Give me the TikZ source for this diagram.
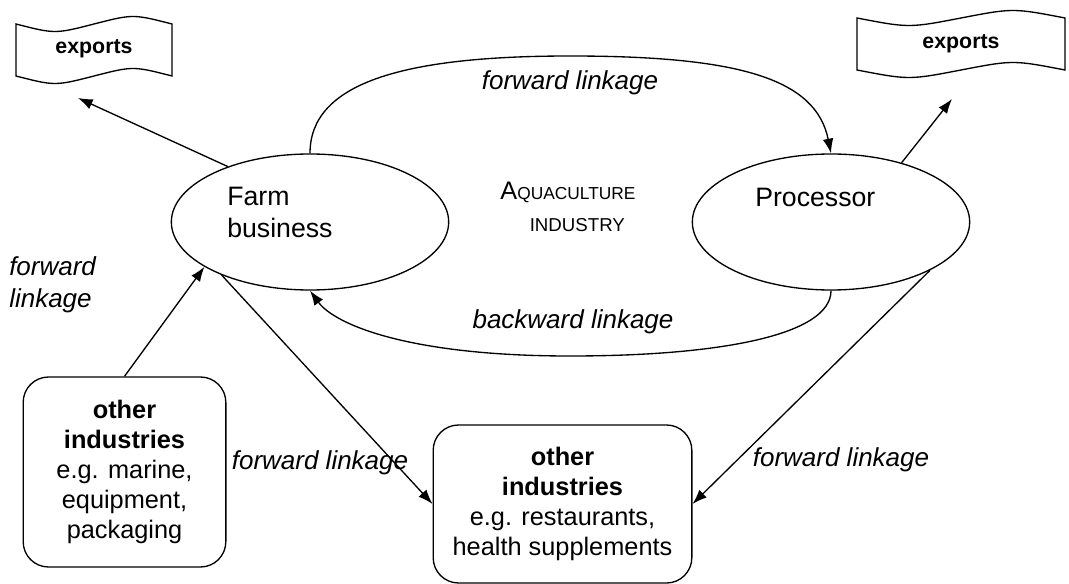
\documentclass[tikz,border=0pt]{standalone}
\usepackage{fontspec}
\setmainfont{Liberation Sans}
\usetikzlibrary{shapes.geometric, arrows.meta, positioning, calc}

\tikzset{
  firm/.style={draw, ellipse, line width=1pt, minimum width=208pt,
               minimum height=102pt, inner sep=0pt},
  firmtxt/.style={align=left, font=\fontsize{20}{24}\selectfont, inner sep=0pt},
  indbox/.style={draw, rounded corners=19pt, line width=1pt, align=center,
                 font=\fontsize{19}{22.5}\selectfont},
  linklbl/.style={font=\fontsize{19.5}{24}\selectfont\itshape, inner sep=0pt},
  exptxt/.style={font=\fontsize{16}{18}\selectfont\bfseries, inner sep=0pt},
  tape/.style={line width=1pt},
  arr/.style={-{Latex[length=11pt,width=8pt]}, line width=1pt},
}

\begin{document}
\begin{tikzpicture}[x=0.75pt, y=-0.75pt]
  \useasboundingbox (0,0) rectangle (1069,584);

  % the two firms
  \node[firm] (farm) at (310,222) {};
  \node[firm] (proc) at (831,222) {};
  \node[firmtxt, anchor=north west] (farmtxt) at (227,187) {Farm\\business};
  \node[firmtxt, anchor=north west] (proctxt) at (755,188) {Processor};
  \node[align=center, inner sep=0pt, anchor=north,
        font=\fontsize{14}{24}\selectfont] (aqua) at (568,182)
    {{\fontsize{19}{24}\selectfont A}{\fontsize{13}{24}\selectfont QUACULTURE}\\
     \hspace*{14pt}INDUSTRY};

  % exports (punched tape)
  \draw[tape] (16,24) .. controls (55,34) and (55,34) .. (94,24)
    .. controls (133,14) and (133,14) .. (172,24) -- (172,76)
    .. controls (133,66) and (133,66) .. (94,76)
    .. controls (55,86) and (55,86) .. (16,76) -- cycle;
  \node[exptxt] (exl) at (94,49) {exports};
  \draw[tape] (857,18) .. controls (909,28) and (909,28) .. (961,18)
    .. controls (1013,8) and (1013,8) .. (1065,18) -- (1065,70)
    .. controls (1013,60) and (1013,60) .. (961,70)
    .. controls (909,80) and (909,80) .. (857,70) -- cycle;
  \node[exptxt] (exr) at (961,44) {exports};

  % other industries
  \node[indbox, minimum width=152pt, minimum height=142.5pt] (indl) at (124.5,472)
    {\textbf{other}\\\textbf{industries}\\e.g. marine,\\equipment,\\packaging};
  \node[indbox, minimum width=194pt, minimum height=118.5pt] (indb) at (562.5,504)
    {\textbf{other}\\\textbf{industries}\\e.g. restaurants,\\health supplements};

  % labels
  \node[linklbl] (fwtxt) at (570,83) {forward linkage};
  \node[linklbl] (bwtxt) at (573,322) {backward linkage};
  \node[linklbl, align=left, anchor=west] (fwleft) at (9,285) {forward\\linkage};
  \node[linklbl] (fwmid) at (320,463) {forward linkage};
  \node[linklbl] (fwright) at (841,460) {forward linkage};

  \coordinate (fwtop) at (570,56);
  \coordinate (bwbot) at (570,356);
  \coordinate (exltip) at (78,98);
  \coordinate (exrtip) at (952,99);

  % linkages
  \draw[arr] (farm.north) .. controls (310,84) and (400,56) .. (fwtop)
    .. controls (740,56) and (816,79) .. (proc.north);
  \draw[arr] (proc.south) .. controls (831,335) and (720,356) .. (bwbot)
    .. controls (410,356) and (335,325) .. (farm.south);
  \draw[arr] (farm.146) -- (exltip);
  \draw[arr] (proc.40) -- (exrtip);
  \draw[arr] (indl.north) -- (farm.203);
  \draw[arr] (farm.211) -- (indb.west);
  \draw[arr] (proc.334) -- (indb.east);
\end{tikzpicture}
\end{document}
